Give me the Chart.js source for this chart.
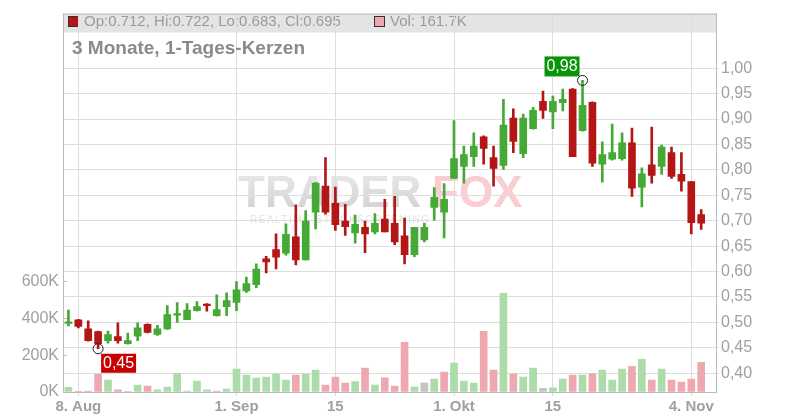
<!DOCTYPE html>
<html>
<head>
<meta charset="utf-8">
<script src="https://cdn.jsdelivr.net/npm/chart.js@4/dist/chart.umd.min.js"></script>
<style>
    html, body { margin: 0; padding: 0; background: #fff; }
</style>
</head>
<body>
<canvas id="canvasKerzen" width="800" height="420"></canvas>
<script>
// Handelstage (dd.mm, 2025)
const dates = [
    '07.08', '08.08', '11.08', '12.08', '13.08', '14.08', '15.08', '18.08', '19.08', '20.08',
    '21.08', '22.08', '25.08', '26.08', '27.08', '28.08', '29.08',
    '01.09', '02.09', '03.09', '04.09', '05.09', '08.09', '09.09', '10.09', '11.09', '12.09',
    '15.09', '16.09', '17.09', '18.09', '19.09', '22.09', '23.09', '24.09', '25.09', '26.09',
    '29.09', '30.09',
    '01.10', '02.10', '03.10', '06.10', '07.10', '08.10', '09.10', '10.10', '13.10', '14.10',
    '15.10', '16.10', '17.10', '20.10', '21.10', '22.10', '23.10', '24.10', '27.10', '28.10',
    '29.10', '30.10', '31.10',
    '03.11', '04.11', '05.11'
]

const opens = [
    0.498, 0.505, 0.487, 0.482, 0.464, 0.472, 0.458, 0.473, 0.496, 0.476,
    0.487, 0.514, 0.505, 0.523, 0.535, 0.513, 0.531,
    0.539, 0.562, 0.574, 0.625, 0.643, 0.636, 0.668, 0.623, 0.717, 0.768,
    0.734, 0.699, 0.676, 0.687, 0.678, 0.703, 0.695, 0.670, 0.633, 0.662,
    0.726, 0.717,
    0.783, 0.807, 0.826, 0.865, 0.824, 0.809, 0.902, 0.832, 0.881, 0.935,
    0.914, 0.932, 0.959, 0.877, 0.933, 0.811, 0.821, 0.822, 0.853, 0.766,
    0.810, 0.807, 0.834,
    0.791, 0.777, 0.712
]
const highs = [
    0.524, 0.506, 0.503, 0.483, 0.483, 0.499, 0.479, 0.499, 0.497, 0.494,
    0.533, 0.539, 0.537, 0.541, 0.537, 0.554, 0.558,
    0.580, 0.589, 0.615, 0.630, 0.674, 0.694, 0.731, 0.720, 0.775, 0.824,
    0.766, 0.732, 0.711, 0.699, 0.714, 0.742, 0.748, 0.705, 0.687, 0.695,
    0.765, 0.773,
    0.897, 0.847, 0.873, 0.867, 0.847, 0.939, 0.920, 0.910, 0.923, 0.955,
    0.945, 0.959, 0.960, 0.976, 0.934, 0.855, 0.890, 0.873, 0.882, 0.804,
    0.884, 0.849, 0.845,
    0.834, 0.777, 0.722
]
const lows = [
    0.493, 0.489, 0.463, 0.448, 0.459, 0.459, 0.457, 0.464, 0.479, 0.474,
    0.486, 0.500, 0.505, 0.522, 0.522, 0.512, 0.513,
    0.523, 0.559, 0.568, 0.597, 0.605, 0.632, 0.613, 0.623, 0.684, 0.713,
    0.681, 0.671, 0.656, 0.637, 0.674, 0.678, 0.653, 0.615, 0.629, 0.658,
    0.701, 0.666,
    0.783, 0.774, 0.807, 0.811, 0.768, 0.801, 0.834, 0.824, 0.880, 0.901,
    0.881, 0.916, 0.826, 0.876, 0.807, 0.776, 0.819, 0.819, 0.748, 0.727,
    0.774, 0.791, 0.783,
    0.758, 0.674, 0.683
]
const closes = [
    0.501, 0.492, 0.464, 0.458, 0.476, 0.464, 0.464, 0.489, 0.480, 0.487,
    0.515, 0.517, 0.524, 0.531, 0.533, 0.525, 0.543,
    0.564, 0.576, 0.605, 0.619, 0.628, 0.673, 0.623, 0.699, 0.774, 0.717,
    0.692, 0.688, 0.693, 0.674, 0.695, 0.678, 0.658, 0.633, 0.687, 0.687,
    0.746, 0.742,
    0.822, 0.830, 0.847, 0.842, 0.803, 0.888, 0.856, 0.902, 0.917, 0.917,
    0.935, 0.939, 0.826, 0.927, 0.813, 0.830, 0.834, 0.853, 0.764, 0.792,
    0.789, 0.845, 0.787,
    0.778, 0.696, 0.695
]
const volumes = [
    25000, 2000, 5000, 97000, 65000, 12000, 1000, 38000, 32000, 12000,
    27000, 101000, 5000, 59000, 12000, 5000, 16000,
    124000, 92000, 76000, 81000, 99000, 65000, 92000, 97000, 119000, 38000,
    81000, 49000, 56000, 130000, 38000, 77000, 32000, 270000, 27000, 49000,
    70000, 108000,
    157000, 59000, 49000, 330000, 119000, 535000, 99000, 81000, 130000, 20000,
    22000, 70000, 92000, 92000, 99000, 119000, 65000, 124000, 140000, 178000,
    65000, 124000, 65000,
    54000, 70000, 161700
]

const tickDates = ['08.08', '01.09', '15.09', '01.10', '15.10', '04.11']
const tickLabels = ['8. Aug', '1. Sep', '15', '1. Okt', '15', '4. Nov']
const priceTicks = [0.40, 0.45, 0.50, 0.55, 0.60, 0.65, 0.70, 0.75, 0.80, 0.85, 0.90, 0.95, 1.00]
const volumeTicks = [0, 200000, 400000, 600000]

const GREEN = '#45a935'
const RED = '#b41616'
const FONT = "'Liberation Sans', Arial, sans-serif"

const candleColors = dates.map((d, i) => closes[i] >= opens[i] ? GREEN : RED)
const volumeColors = dates.map((d, i) => {
    if (i == 0 || closes[i] > closes[i - 1]) return '#acdcaa'
    if (closes[i] < closes[i - 1]) return '#eea8b0'
    return '#c4c4c4'
})

const comma = v => v.toFixed(2).replace('.', ',')

// Kopfzeile, Titel, Wasserzeichen und Markierungen
const overlay = {
    id: 'overlay',
    beforeDraw(chart) {
        const ctx = chart.ctx
        const a = chart.chartArea
        const last = dates.length - 1
        ctx.save()
        ctx.fillStyle = '#e4e4e4'
        ctx.fillRect(a.left, a.top, a.right - a.left, 19)

        ctx.font = '15px ' + FONT
        ctx.textBaseline = 'alphabetic'
        ctx.fillStyle = RED
        ctx.fillRect(68.5, 16.5, 10, 10)
        ctx.strokeStyle = '#333'
        ctx.lineWidth = 1
        ctx.strokeRect(68.5, 16.5, 10, 10)
        ctx.fillStyle = '#9a9a9a'
        ctx.fillText('Op:' + opens[last].toFixed(3) + ', Hi:' + highs[last].toFixed(3) +
            ', Lo:' + lows[last].toFixed(3) + ', Cl:' + closes[last].toFixed(3), 84, 26)
        ctx.fillStyle = '#eea8b0'
        ctx.fillRect(374.5, 16.5, 10, 10)
        ctx.strokeRect(374.5, 16.5, 10, 10)
        ctx.fillStyle = '#9a9a9a'
        ctx.fillText('Vol: ' + (volumes[last] / 1000).toFixed(1) + 'K', 390, 26)

        // Wasserzeichen
        ctx.font = 'bold 44px ' + FONT
        const grad = ctx.createLinearGradient(0, 176, 0, 208)
        grad.addColorStop(0, '#e6e6e6')
        grad.addColorStop(1, '#d4d4d4')
        ctx.fillStyle = grad
        ctx.fillText('TRADER', 238, 207)
        ctx.fillStyle = '#f9cdd1'
        ctx.fillText('FOX', 432, 207)
        ctx.font = '10px ' + FONT
        ctx.letterSpacing = '1.5px'
        ctx.fillStyle = '#e2e2e2'
        ctx.fillText('REALTIME STOCKSCREENING', 250, 223)
        ctx.letterSpacing = '0px'
        ctx.restore()
    },
    afterDraw(chart) {
        const ctx = chart.ctx
        const a = chart.chartArea
        const x = chart.scales.x
        const y = chart.scales.y
        ctx.save()
        ctx.strokeStyle = '#bbbbbb'
        ctx.lineWidth = 1
        ctx.beginPath()
        ctx.moveTo(a.left, a.top + 0.5)
        ctx.lineTo(a.right, a.top + 0.5)
        volumeTicks.slice(1).forEach(v => {
            const py = Math.round(chart.scales.yVol.getPixelForValue(v)) + 0.5
            ctx.moveTo(a.left, py)
            ctx.lineTo(a.left + 4, py)
        })
        ctx.stroke()

        ctx.font = 'bold 19px ' + FONT
        ctx.fillStyle = '#8a8a8a'
        ctx.fillText('3 Monate, 1-Tages-Kerzen', 72, 54)

        let iMax = 0, iMin = 0
        highs.forEach((h, i) => { if (h > highs[iMax]) iMax = i })
        lows.forEach((l, i) => { if (l < lows[iMin]) iMin = i })

        ctx.font = '16px ' + FONT
        ctx.textAlign = 'center'
        ctx.textBaseline = 'middle'

        const hx = x.getPixelForValue(iMax), hy = y.getPixelForValue(highs[iMax])
        ctx.fillStyle = '#089608'
        ctx.fillRect(hx - 38, hy - 24, 35, 20)
        ctx.fillStyle = '#fff'
        ctx.fillText(comma(highs[iMax]), hx - 20.5, hy - 13.5)
        ctx.beginPath()
        ctx.arc(hx, hy, 5, 0, Math.PI * 2)
        ctx.strokeStyle = '#222'
        ctx.stroke()

        const lx = x.getPixelForValue(iMin), ly = y.getPixelForValue(lows[iMin])
        ctx.fillStyle = '#c80000'
        ctx.fillRect(lx + 3, ly + 5, 35, 19)
        ctx.fillStyle = '#fff'
        ctx.fillText(comma(lows[iMin]), lx + 20.5, ly + 15)
        ctx.beginPath()
        ctx.arc(lx, ly, 5, 0, Math.PI * 2)
        ctx.stroke()
        ctx.restore()
    }
}

new Chart(document.getElementById('canvasKerzen').getContext('2d'), {
    type: 'bar',
    data: {
        datasets: [
            {
                label: 'Kerzen',
                data: dates.map((d, i) => ({ x: i, y: [opens[i], closes[i]] })),
                yAxisID: 'y',
                backgroundColor: candleColors,
                barThickness: 7,
                minBarLength: 1.5,
                grouped: false,
                order: 1
            },
            {
                label: 'Dochte',
                data: dates.map((d, i) => ({ x: i, y: [lows[i], highs[i]] })),
                yAxisID: 'y',
                backgroundColor: candleColors,
                barThickness: 2,
                grouped: false,
                order: 2
            },
            {
                label: 'Vol',
                data: dates.map((d, i) => ({ x: i, y: volumes[i] })),
                yAxisID: 'yVol',
                backgroundColor: volumeColors,
                barThickness: 7,
                grouped: false,
                order: 3
            }
        ]
    },
    options: {
        responsive: false,
        animation: false,
        layout: { padding: { top: 11, left: 0, right: 0, bottom: 0 } },
        plugins: {
            legend: { display: false },
            tooltip: { enabled: false }
        },
        scales: {
            x: {
                type: 'linear',
                min: -0.55,
                max: 65.5,
                offset: false,
                grid: { offset: false, color: '#dddddd', tickLength: 4 },
                border: { color: '#bbbbbb' },
                afterBuildTicks: s => { s.ticks = tickDates.map(d => ({ value: dates.indexOf(d) })) },
                afterFit: s => { s.height = 28 },
                ticks: {
                    autoSkip: false,
                    maxRotation: 0,
                    padding: 2,
                    color: '#a0a0a0',
                    font: { family: FONT, size: 15, weight: 'bold' },
                    callback: v => tickLabels[tickDates.indexOf(dates[v])]
                }
            },
            yVol: {
                type: 'linear',
                position: 'left',
                min: 0,
                max: 2054000,
                grid: { drawOnChartArea: false, drawTicks: false },
                border: { color: '#bbbbbb' },
                afterBuildTicks: s => { s.ticks = volumeTicks.map(v => ({ value: v })) },
                afterFit: s => { s.width = 63 },
                ticks: {
                    padding: 4,
                    color: '#a0a0a0',
                    font: { family: FONT, size: 16 },
                    callback: v => (v / 1000) + 'K'
                }
            },
            y: {
                type: 'linear',
                position: 'right',
                min: 0.3629,
                max: 1.1075,
                grid: { color: '#dddddd', tickLength: 3 },
                border: { color: '#bbbbbb' },
                afterBuildTicks: s => { s.ticks = priceTicks.map(v => ({ value: v })) },
                afterFit: s => { s.width = 84 },
                ticks: {
                    padding: 2,
                    color: '#a0a0a0',
                    font: { family: FONT, size: 16 },
                    callback: v => comma(v)
                }
            }
        }
    },
    plugins: [overlay]
})
</script>
</body>
</html>
